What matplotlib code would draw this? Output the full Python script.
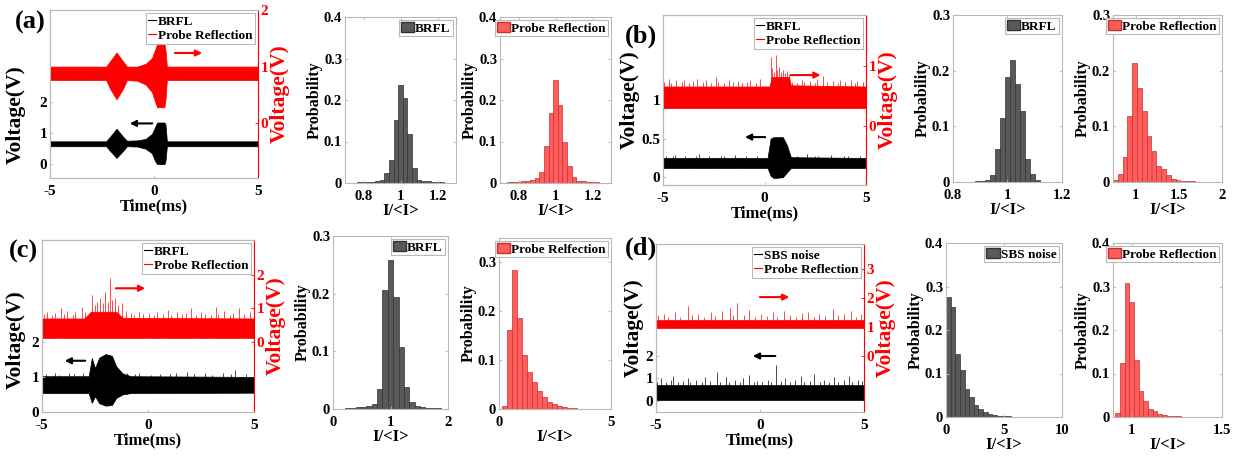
import numpy as np
import matplotlib
matplotlib.use("Agg")
import matplotlib.pyplot as plt
from matplotlib.lines import Line2D
from matplotlib.patches import Patch
from matplotlib.ticker import FuncFormatter

plt.rcParams['font.family'] = 'Liberation Serif'
plt.rcParams['font.weight'] = 'bold'
plt.rcParams['axes.labelweight'] = 'bold'

# ---- time traces, read as envelopes (time ms, upper, lower) plus visible spikes ----
a_blk_t = [-5, -2.3, -2.1, -1.8, -1.5, -1.3, -0.8, -0.4, -0.1, 0.05, 0.15, 0.5, 0.55, 0.62, 5]
a_blk_up = [0.74, 0.74, 0.9, 1.15, 0.9, 0.76, 0.77, 0.82, 0.98, 1.2, 1.35, 1.35, 1.3, 0.74, 0.74]
a_blk_lo = [0.58, 0.58, 0.42, 0.2, 0.42, 0.58, 0.57, 0.5, 0.35, 0.1, 0.0, 0.0, 0.1, 0.58, 0.58]
a_red_t = [-5, -2.3, -2.1, -1.8, -1.5, -1.3, -0.8, -0.4, -0.1, 0.05, 0.15, 0.5, 0.55, 0.62, 5]
a_red_up = [1.0, 1.0, 1.1, 1.25, 1.1, 1.0, 1.0, 1.05, 1.15, 1.3, 1.4, 1.4, 1.3, 1.0, 1.0]
a_red_lo = [0.76, 0.76, 0.6, 0.42, 0.6, 0.76, 0.75, 0.68, 0.55, 0.38, 0.28, 0.28, 0.4, 0.76, 0.76]

b_blk_t = [-5, 0.15, 0.3, 0.45, 0.9, 1.1, 1.3, 5]
b_blk_up = [0.25, 0.25, 0.5, 0.52, 0.52, 0.42, 0.26, 0.25]
b_blk_lo = [0.12, 0.12, 0.02, -0.01, 0.0, 0.06, 0.12, 0.12]
b_blk_spk_t = [-4.86, -4.52, -4.41, -3.93, -3.37, -3.21, -2.74, -2.12, -1.98, -1.46, -0.92,
               -0.37, 1.62, 2.08, 2.51, 2.66, 3.27, 3.9, 4.12, 4.71]
b_blk_spk_v = [0.28, 0.27, 0.29, 0.27, 0.28, 0.3, 0.27, 0.28, 0.27, 0.29, 0.27, 0.28, 0.28,
               0.3, 0.27, 0.28, 0.29, 0.27, 0.28, 0.27]
b_red_t = [-5, 0.25, 0.35, 1.2, 1.3, 5]
b_red_up = [0.66, 0.66, 0.82, 0.82, 0.68, 0.66]
b_red_lo = [0.3, 0.3, 0.3, 0.3, 0.3, 0.3]
b_red_spk_t = [-4.93, -4.71, -4.62, -4.38, -4.05, -3.96, -3.7, -3.52, -3.31, -3.02, -2.9,
               -2.64, -2.38, -2.27, -1.98, -1.74, -1.55, -1.3, -1.12, -0.87, -0.69, -0.44,
               -0.2, 0.3, 0.38, 0.47, 0.57, 0.63, 0.72, 0.81, 0.9, 1.02, 1.1, 1.19, 1.37,
               1.58, 1.84, 1.95, 2.22, 2.47, 2.58, 2.9, 3.08, 3.36, 3.6, 3.71, 3.99, 4.26,
               4.48, 4.57, 4.85]
b_red_spk_v = [0.74, 0.78, 0.72, 0.76, 0.73, 0.77, 0.72, 0.75, 0.78, 0.73, 0.76, 0.72, 0.82,
               0.74, 0.72, 0.77, 0.73, 0.75, 0.72, 0.74, 0.76, 0.72, 0.78, 1.15, 0.96, 0.9,
               1.18, 0.94, 0.98, 0.9, 0.94, 0.88, 0.92, 0.86, 0.74, 0.72, 0.77, 0.73, 0.75,
               0.72, 0.78, 0.83, 0.73, 0.75, 0.72, 0.76, 0.73, 0.77, 0.72, 0.75, 0.73]

c_blk_t = [-5, -2.8, -2.65, -2.5, -2.3, -2.0, -1.7, -1.5, -1.2, -0.8, 5]
c_blk_up = [1.02, 1.02, 1.54, 1.25, 1.55, 1.65, 1.6, 1.3, 1.1, 1.02, 1.0]
c_blk_lo = [0.54, 0.54, 0.26, 0.45, 0.25, 0.18, 0.2, 0.4, 0.5, 0.54, 0.55]
c_blk_spk_t = [-4.82, -4.37, -4.21, -3.74, -3.48, -3.05, -0.97, -0.61, -0.43, 0.12, 0.58,
               1.04, 1.33, 1.86, 2.17, 2.71, 3.02, 3.55, 3.93, 4.12, 4.64]
c_blk_spk_v = [1.08, 1.1, 1.06, 1.12, 1.07, 1.1, 1.12, 1.07, 1.1, 1.06, 1.09, 1.07, 1.12,
               1.14, 1.08, 1.1, 1.06, 1.11, 1.08, 1.2, 1.07]
c_red_t = [-5, -3.0, -2.7, -1.5, -1.2, 5]
c_red_up = [0.7, 0.7, 0.9, 0.9, 0.72, 0.7]
c_red_lo = [0.12, 0.12, 0.12, 0.12, 0.12, 0.12]
c_red_spk_t = [-4.91, -4.76, -4.53, -4.39, -4.12, -3.97, -3.81, -3.55, -3.42, -3.13, -2.98,
               -2.64, -2.52, -2.41, -2.27, -2.12, -2.03, -1.91, -1.79, -1.68, -1.57, -1.41,
               -1.22, -1.05, -0.82, -0.66, -0.41, -0.24, 0.07, 0.29, 0.41, 0.69, 0.94, 1.08,
               1.36, 1.62, 1.77, 2.03, 2.26, 2.51, 2.68, 2.95, 3.2, 3.31, 3.58, 3.87, 4.03,
               4.3, 4.52, 4.81]
c_red_spk_v = [0.82, 0.9, 0.8, 0.86, 1.0, 0.82, 0.92, 0.8, 0.88, 1.05, 0.9, 1.4, 1.1, 1.2,
               1.3, 1.15, 1.5, 1.2, 1.9, 1.25, 1.3, 1.1, 1.15, 0.92, 0.86, 0.8, 0.9, 0.82,
               0.86, 0.8, 0.9, 0.82, 0.95, 0.8, 0.88, 0.82, 0.86, 1.0, 0.8, 0.9, 0.84, 0.8,
               1.05, 0.84, 0.92, 0.8, 0.85, 1.0, 0.82, 0.88]

d_blk_t = [-5, 5]
d_blk_up = [0.72, 0.72]
d_blk_lo = [0.03, 0.03]
d_blk_spk_t = [-4.93, -4.77, -4.51, -4.3, -4.18, -3.92, -3.69, -3.45, -3.36, -3.07, -2.81,
               -2.66, -2.42, -2.07, -1.9, -1.63, -1.47, -1.21, -0.96, -0.83, -0.55, -0.31,
               -0.16, 0.12, 0.38, 0.55, 0.77, 1.03, 1.21, 1.46, 1.68, 1.97, 2.11, 2.39,
               2.62, 2.9, 3.06, 3.33, 3.58, 3.74, 4.02, 4.27, 4.41, 4.7, 4.88]
d_blk_spk_v = [0.86, 1.02, 0.84, 0.92, 1.12, 0.84, 0.88, 1.0, 0.84, 0.92, 0.85, 1.05, 0.88,
               1.3, 0.85, 1.08, 0.86, 0.92, 0.84, 1.0, 1.15, 0.85, 0.9, 0.86, 0.95, 0.84,
               1.6, 0.88, 1.02, 0.85, 0.92, 1.1, 0.84, 0.88, 1.18, 0.85, 0.92, 0.84, 1.05,
               0.86, 0.92, 1.1, 0.85, 0.95, 0.88]
d_red_t = [-5, 5]
d_red_up = [1.25, 1.25]
d_red_lo = [0.96, 0.96]
d_red_spk_t = [-4.88, -4.62, -4.41, -4.1, -3.86, -3.46, -3.28, -2.97, -2.71, -2.35, -2.18,
               -1.83, -1.44, -1.28, -1.1, -0.79, -0.52, -0.24, 0.03, 0.34, 0.61, 0.82, 1.17,
               1.43, 1.71, 2.04, 2.29, 2.6, 2.83, 3.14, 3.5, 3.77, 4.03, 4.39, 4.62, 4.87]
d_red_spk_v = [1.4, 1.45, 1.34, 1.5, 1.36, 1.72, 1.4, 1.45, 1.34, 1.5, 1.38, 1.55, 1.65,
               1.4, 1.83, 1.42, 1.6, 1.36, 1.45, 1.38, 1.5, 1.34, 1.55, 1.4, 1.36, 1.48,
               1.5, 1.35, 1.45, 1.38, 1.62, 1.4, 1.45, 1.55, 1.36, 1.45]

# ---- histograms (bin centres, probability) ----
a_brfl_x = [0.725, 0.75, 0.775, 0.8, 0.825, 0.85, 0.875, 0.9, 0.925, 0.95, 0.975, 1.0, 1.025,
            1.05, 1.075, 1.1, 1.125, 1.15, 1.175, 1.2, 1.225, 1.25, 1.275]
a_brfl_p = [0.001, 0.001, 0.002, 0.002, 0.003, 0.003, 0.004, 0.008, 0.024, 0.056, 0.151, 0.235,
            0.205, 0.117, 0.037, 0.007, 0.005, 0.004, 0.003, 0.002, 0.002, 0.001, 0.001]
a_probe_x = [0.725, 0.75, 0.775, 0.8, 0.825, 0.85, 0.875, 0.9, 0.925, 0.95, 0.975, 1.0, 1.025,
             1.05, 1.075, 1.1, 1.125, 1.15, 1.175, 1.2, 1.225, 1.25, 1.275]
a_probe_p = [0.001, 0.002, 0.003, 0.003, 0.004, 0.005, 0.007, 0.012, 0.026, 0.09, 0.169, 0.249,
             0.189, 0.098, 0.042, 0.014, 0.006, 0.004, 0.003, 0.002, 0.002, 0.001, 0.001]

b_brfl_x = [0.89, 0.908, 0.926, 0.944, 0.963, 0.982, 1.0, 1.018, 1.037, 1.055, 1.074, 1.092, 1.11]
b_brfl_p = [0.001, 0.002, 0.004, 0.012, 0.06, 0.115, 0.188, 0.22, 0.176, 0.127, 0.042, 0.014, 0.003]
b_probe_x = [0.763, 0.819, 0.875, 0.93, 0.986, 1.042, 1.098, 1.154, 1.21, 1.266, 1.322, 1.378,
             1.434, 1.49, 1.546, 1.602, 1.658]
b_probe_p = [0.004, 0.015, 0.045, 0.118, 0.214, 0.168, 0.127, 0.082, 0.055, 0.028, 0.024, 0.012,
             0.006, 0.003, 0.002, 0.001, 0.001]

c_brfl_x = [0.256, 0.349, 0.442, 0.535, 0.628, 0.721, 0.814, 0.907, 1.0, 1.093, 1.186, 1.279,
            1.372, 1.465, 1.558, 1.651, 1.744, 1.837]
c_brfl_p = [0.001, 0.002, 0.003, 0.004, 0.005, 0.008, 0.035, 0.206, 0.258, 0.195, 0.107, 0.038,
            0.012, 0.006, 0.003, 0.002, 0.001, 0.001]
c_probe_x = [0.24, 0.465, 0.69, 0.915, 1.14, 1.365, 1.59, 1.815, 2.04, 2.265, 2.49, 2.715,
             2.94, 3.165, 3.39, 3.615, 3.84]
c_probe_p = [0.007, 0.161, 0.284, 0.186, 0.111, 0.075, 0.055, 0.036, 0.024, 0.015, 0.01, 0.007,
             0.005, 0.003, 0.002, 0.001, 0.001]

d_sbs_x = [0.2, 0.6, 1.0, 1.4, 1.8, 2.2, 2.6, 3.0, 3.4, 3.8, 4.2, 4.6, 5.0, 5.4, 5.8, 6.2]
d_sbs_p = [0.276, 0.254, 0.145, 0.109, 0.065, 0.045, 0.028, 0.018, 0.011, 0.007, 0.005, 0.003,
           0.002, 0.0015, 0.001, 0.001]
d_probe_x = [0.922, 0.948, 0.974, 1.0, 1.026, 1.052, 1.078, 1.104, 1.13, 1.156, 1.182, 1.208,
             1.234, 1.26, 1.286, 1.312]
d_probe_p = [0.009, 0.123, 0.307, 0.264, 0.132, 0.059, 0.036, 0.018, 0.014, 0.008, 0.005, 0.003,
             0.002, 0.0015, 0.001, 0.001]

W, H = 1254, 458
fig = plt.figure(figsize=(W / 100, H / 100), dpi=100)

GRID_GRAY = '#b8b8b8'
RED = '#ff0000'
fmt = FuncFormatter(lambda v, p: f"{v:g}")


def px_axes(l, r, t, b):
    return fig.add_axes([l / W, 1 - b / H, (r - l) / W, (b - t) / H])


def style(ax, size=10.5):
    for s in ax.spines.values():
        s.set_color(GRID_GRAY)
        s.set_linewidth(0.8)
    ax.tick_params(direction='in', length=2.5, width=0.6, color=GRID_GRAY,
                   labelsize=size, pad=2)
    ax.tick_params(axis='x', pad=5)
    for lab in ax.get_xticklabels() + ax.get_yticklabels():
        lab.set_fontweight('bold')


def band(ax, t, up, lo, color, spk_t=None, spk_v=None):
    ax.fill_between(t, lo, up, color=color, lw=0.5)
    if spk_t:
        base = np.interp(spk_t, t, lo)
        ax.vlines(spk_t, base, spk_v, color=color, lw=0.5)


def ts_panel(box, blk, red, ylim_l, ylim_r, yt_l, yt_r, names, arr_b, arr_r, tag, tag_xy,
             blk_spk=(None, None), red_spk=(None, None)):
    ax = px_axes(*box)
    ax2 = ax.twinx()
    band(ax, *blk, 'k', *blk_spk)
    band(ax2, *red, RED, *red_spk)
    ax.set_xlim(-5, 5)
    ax.set_ylim(*ylim_l)
    ax2.set_ylim(*ylim_r)
    ax.set_xticks([-5, 0, 5])
    ax.set_yticks(yt_l)
    ax2.set_yticks(yt_r)
    ax.xaxis.set_major_formatter(fmt)
    ax.yaxis.set_major_formatter(fmt)
    ax2.yaxis.set_major_formatter(fmt)
    style(ax, 11)
    style(ax2, 11)
    ax2.spines['right'].set_color(RED)
    ax2.tick_params(axis='y', colors=RED, labelcolor=RED)
    ax.set_ylabel('Voltage(V)', fontsize=15.5, labelpad=1)
    ax2.set_ylabel('Voltage(V)', fontsize=15.5, color=RED, labelpad=1)
    ax.set_xlabel('Time(ms)', fontsize=12, labelpad=0)
    ax.annotate('', xy=arr_b[1], xytext=arr_b[0],
                arrowprops=dict(arrowstyle='-|>', color='k', lw=1.5, mutation_scale=9))
    ax2.annotate('', xy=arr_r[1], xytext=arr_r[0],
                 arrowprops=dict(arrowstyle='-|>', color=RED, lw=1.5, mutation_scale=9))
    handles = [Line2D([], [], color='k', lw=0.8), Line2D([], [], color=RED, lw=0.8)]
    leg = ax2.legend(handles, names, loc='upper right', fontsize=9.5, frameon=True,
                     fancybox=False, edgecolor=GRID_GRAY, handlelength=0.6,
                     handletextpad=0.2, borderpad=0.15, labelspacing=0.15,
                     borderaxespad=0.25, framealpha=1)
    leg.get_frame().set_linewidth(0.8)
    for txt in leg.get_texts():
        txt.set_fontweight('bold')
    fig.text(tag_xy[0] / W, 1 - tag_xy[1] / H, tag, fontsize=19, fontweight='bold',
             ha='center', va='center')
    return ax, ax2


def hist_panel(box, x, p, color, edge, name, xlim, xt, ylim, yt):
    ax = px_axes(*box)
    w = np.min(np.diff(x))
    ax.bar(x, p, width=w, color=color, edgecolor=edge, linewidth=0.5)
    ax.set_xlim(*xlim)
    ax.set_ylim(*ylim)
    ax.set_xticks(xt)
    ax.set_yticks(yt)
    ax.xaxis.set_major_formatter(fmt)
    ax.yaxis.set_major_formatter(fmt)
    ax.tick_params(top=True, right=True)
    style(ax, 10.5)
    ax.set_ylabel('Probability', fontsize=11.5, labelpad=1)
    ax.set_xlabel('I/<I>', fontsize=12, labelpad=0)
    leg = ax.legend([Patch(facecolor=color, edgecolor=edge)], [name], loc='upper right',
                    fontsize=9.5, frameon=True, fancybox=False, edgecolor=GRID_GRAY,
                    handlelength=1.0, handleheight=0.7, handletextpad=0.1,
                    borderpad=0.15, borderaxespad=0.25, framealpha=1)
    leg.get_frame().set_linewidth(0.8)
    for txt in leg.get_texts():
        txt.set_fontweight('bold')


GRAY_F, GRAY_E = '#595959', '#333333'
RED_F, RED_E = '#ff5c5c', '#c83030'

# (a)
ax_a, ax_a2 = ts_panel((50, 258, 10, 178), (a_blk_t, a_blk_up, a_blk_lo),
                       (a_red_t, a_red_up, a_red_lo),
                       (-0.45, 5.0), (-0.97, 2.0), [0, 1, 2], [0, 1, 2],
                       ['BRFL', 'Probe Reflection'],
                       ((0.05, 1.32), (-1.3, 1.32)), ((0.87, 1.24), (2.45, 1.24)), '(a)', (30, 22))
ax_a.yaxis.set_label_coords(-0.115, 0.38)
hist_panel((345, 456, 17, 183), a_brfl_x, a_brfl_p, GRAY_F, GRAY_E, 'BRFL',
           (0.7, 1.3), [0.8, 1, 1.2], (0, 0.4), [0, 0.1, 0.2, 0.3, 0.4])
hist_panel((500, 611, 17, 183), a_probe_x, a_probe_p, RED_F, RED_E, 'Probe Reflection',
           (0.7, 1.3), [0.8, 1, 1.2], (0, 0.4), [0, 0.1, 0.2, 0.3, 0.4])

# (b)
ts_panel((663, 866, 15, 185), (b_blk_t, b_blk_up, b_blk_lo), (b_red_t, b_red_up, b_red_lo),
         (-0.1, 2.1), (-0.98, 1.85), [0, 0.5, 1], [0, 1], ['BRFL', 'Probe Reflection'],
         ((0.17, 0.52), (-1.1, 0.52)), ((1.16, 0.85), (2.9, 0.85)), '(b)', (641, 36),
         blk_spk=(b_blk_spk_t, b_blk_spk_v), red_spk=(b_red_spk_t, b_red_spk_v))
hist_panel((953, 1062, 15, 182), b_brfl_x, b_brfl_p, GRAY_F, GRAY_E, 'BRFL',
           (0.8, 1.2), [0.8, 1, 1.2], (0, 0.3), [0, 0.1, 0.2, 0.3])
hist_panel((1113, 1222, 15, 182), b_probe_x, b_probe_p, RED_F, RED_E, 'Probe Reflection',
           (0.735, 2.0), [1, 1.5, 2], (0, 0.3), [0, 0.1, 0.2, 0.3])

# (c)
ax_c, ax_c2 = ts_panel((42, 254, 240, 412), (c_blk_t, c_blk_up, c_blk_lo),
                       (c_red_t, c_red_up, c_red_lo),
                       (0, 4.9), (-2.09, 3.04), [0, 1, 2], [0, 1, 2],
                       ['BRFL', 'Probe Reflection'],
                       ((-2.83, 1.46), (-4.06, 1.46)), ((-1.65, 1.6), (0.0, 1.6)), '(c)', (23, 251),
                       blk_spk=(c_blk_spk_t, c_blk_spk_v), red_spk=(c_red_spk_t, c_red_spk_v))
ax_c.yaxis.set_label_coords(-0.075, 0.42)
hist_panel((333, 448, 236, 409), c_brfl_x, c_brfl_p, GRAY_F, GRAY_E, 'BRFL',
           (0, 2), [0, 1, 2], (0, 0.3), [0, 0.1, 0.2, 0.3])
hist_panel((499, 611, 238, 409), c_probe_x, c_probe_p, RED_F, RED_E, 'Probe Relfection',
           (0, 5), [0, 5], (0, 0.35), [0, 0.1, 0.2, 0.3])

# (d)
ts_panel((656, 864, 244, 412), (d_blk_t, d_blk_up, d_blk_lo), (d_red_t, d_red_up, d_red_lo),
         (-0.5, 7.0), (-1.93, 3.86), [0, 1, 2], [0, 1, 2, 3], ['SBS noise', 'Probe Reflection'],
         ((0.87, 2.0), (-0.48, 2.0)), ((-0.14, 2.03), (1.54, 2.03)), '(d)', (641, 248),
         blk_spk=(d_blk_spk_t, d_blk_spk_v), red_spk=(d_red_spk_t, d_red_spk_v))
hist_panel((946, 1062, 243, 417), d_sbs_x, d_sbs_p, GRAY_F, GRAY_E, 'SBS noise',
           (0, 10), [0, 5, 10], (0, 0.4), [0, 0.1, 0.2, 0.3, 0.4])
hist_panel((1113, 1222, 243, 417), d_probe_x, d_probe_p, RED_F, RED_E, 'Probe Reflection',
           (0.897, 1.5), [1, 1.5], (0, 0.4), [0, 0.1, 0.2, 0.3, 0.4])

fig.savefig('out.png', dpi=100)
